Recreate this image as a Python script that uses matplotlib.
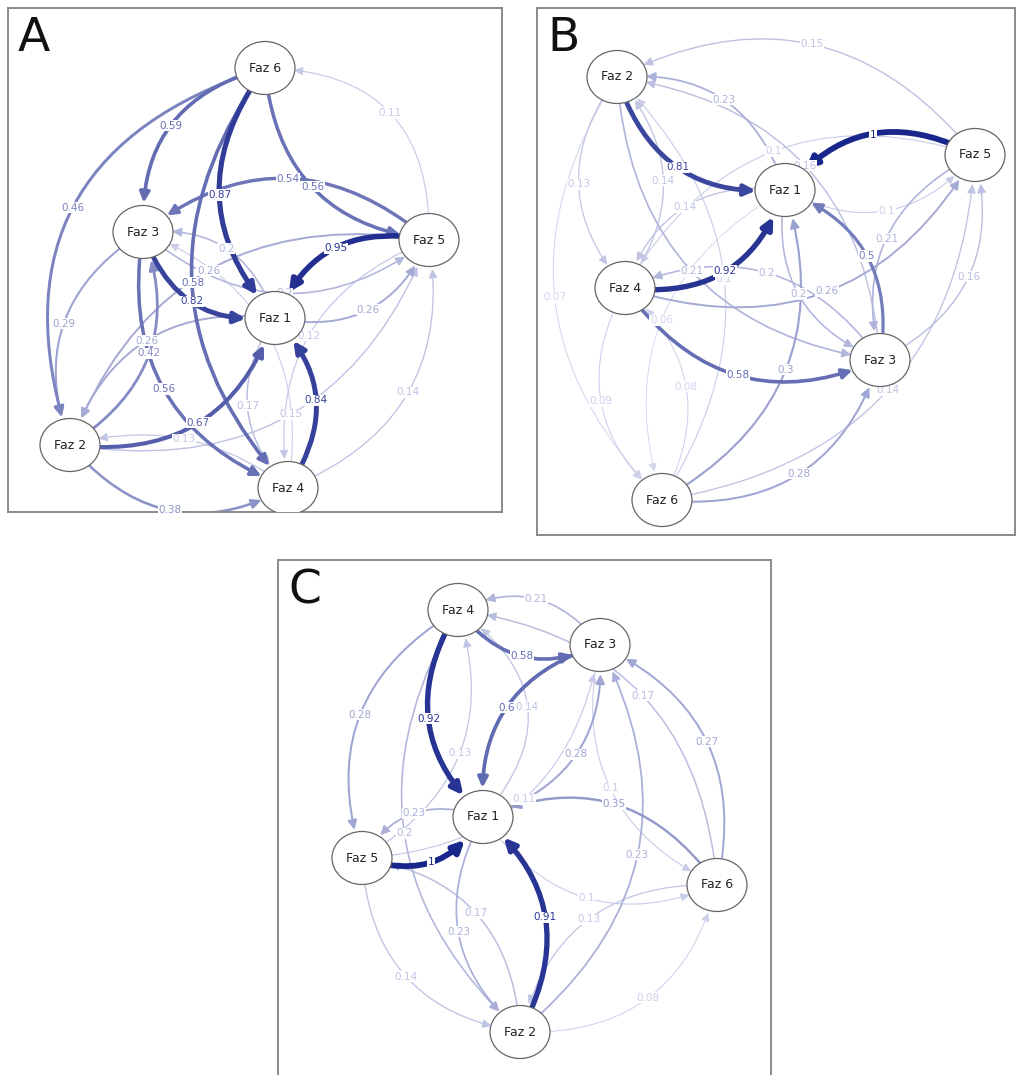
import matplotlib.pyplot as plt
from matplotlib.patches import Ellipse, FancyArrowPatch

names = ['Faz 1', 'Faz 2', 'Faz 3', 'Faz 4', 'Faz 5', 'Faz 6']

# node layouts, pixels from the top-left corner of each panel
pos_a = [(267, 310), (62, 437), (135, 224), (280, 480), (421, 232), (257, 60)]
pos_b = [(248, 182), (80, 69), (343, 352), (88, 280), (438, 147), (125, 492)]
pos_c = [(205, 257), (242, 472), (322, 85), (180, 50), (84, 298), (439, 325)]

# transitions: from phase, to phase, probability
edges_a = [(6, 3, 0.59), (6, 2, 0.46), (3, 2, 0.29), (6, 1, 0.87), (6, 4, 0.58),
           (6, 5, 0.56), (5, 3, 0.54), (5, 1, 0.95), (3, 1, 0.82), (1, 3, 0.2),
           (3, 4, 0.56), (2, 3, 0.42), (1, 2, 0.26), (5, 2, 0.26), (1, 4, 0.17),
           (4, 1, 0.84), (2, 1, 0.67), (4, 2, 0.13), (2, 4, 0.38), (1, 5, 0.26),
           (4, 5, 0.14), (5, 6, 0.11), (3, 5, 0.2), (5, 4, 0.12), (2, 5, 0.15),
           (4, 3, 0.1)]
edges_b = [(2, 1, 0.81), (5, 1, 1.0), (4, 1, 0.92), (4, 3, 0.58), (3, 1, 0.5),
           (6, 3, 0.28), (6, 1, 0.3), (5, 2, 0.15), (1, 2, 0.23), (2, 4, 0.13),
           (4, 2, 0.14), (3, 5, 0.16), (6, 5, 0.14), (1, 5, 0.1), (5, 3, 0.21),
           (1, 3, 0.2), (4, 5, 0.26), (4, 6, 0.09), (6, 4, 0.08), (6, 2, 0.1),
           (1, 4, 0.14), (2, 3, 0.21), (3, 2, 0.16), (3, 4, 0.2), (5, 4, 0.1),
           (1, 6, 0.06), (2, 6, 0.07)]
edges_c = [(4, 1, 0.92), (4, 3, 0.58), (1, 3, 0.28), (3, 1, 0.6), (3, 4, 0.21),
           (5, 1, 1.0), (2, 1, 0.91), (1, 2, 0.23), (4, 5, 0.28), (5, 4, 0.13),
           (6, 3, 0.27), (6, 1, 0.35), (2, 3, 0.23), (6, 2, 0.13), (2, 6, 0.08),
           (5, 2, 0.14), (2, 5, 0.17), (1, 5, 0.23), (5, 3, 0.11), (1, 4, 0.14),
           (6, 4, 0.17), (4, 2, 0.2), (1, 6, 0.1), (3, 6, 0.1)]

# curvature for arcs that bend more or less than the default
bend_a = {(6, 2): 0.5, (5, 6): 0.5, (4, 2): 0.25}
bend_c = {(1, 4): 0.55}

W, H = 1019, 1075
fig = plt.figure(figsize=(W / 100, H / 100), dpi=100)

light = (0.90, 0.91, 0.97)
dark = (0.10, 0.15, 0.55)


def edge_colour(w):
    t = min(w, 1.0) ** 0.85
    return tuple(l + (d - l) * t for l, d in zip(light, dark))


def panel(box, letter, pos, edges, bend=None):
    x0, y0, x1, y1 = box
    pw, ph = x1 - x0, y1 - y0
    ax = fig.add_axes([x0 / W, 1 - y1 / H, pw / W, ph / H])
    ax.set_xlim(0, pw)
    ax.set_ylim(ph, 0)
    ax.set_xticks([])
    ax.set_yticks([])
    for s in ax.spines.values():
        s.set_color('#8a8a8a')
        s.set_linewidth(1.4)
    bend = bend or {}
    for a, b, w in sorted(edges, key=lambda e: e[2]):
        p, q = pos[a - 1], pos[b - 1]
        rad = bend.get((a, b), 0.4)
        col = edge_colour(w)
        lw = (0.6 + 5.2 * w) * 0.72
        arr = FancyArrowPatch(p, q, connectionstyle=f'arc3,rad={rad}',
                              arrowstyle='-|>,head_length=0.45,head_width=0.22',
                              mutation_scale=11 + 4 * w, shrinkA=20, shrinkB=21,
                              color=col, lw=lw, zorder=2 + w)
        ax.add_patch(arr)
        # label sits at the middle of the quadratic arc
        dx, dy = q[0] - p[0], q[1] - p[1]
        lx = (p[0] + q[0]) / 2 - 0.5 * rad * dy
        ly = (p[1] + q[1]) / 2 + 0.5 * rad * dx
        ax.text(lx, ly, f'{w:g}', fontsize=7.5, color=col, ha='center', va='center',
                zorder=3.2 + w, bbox=dict(boxstyle='square,pad=0.05', fc='white', ec='none'))
    for (x, y), name in zip(pos, names):
        ax.add_patch(Ellipse((x, y), 60, 53, fc='white', ec='#666666', lw=0.9, zorder=6))
        ax.text(x, y, name, fontsize=9, ha='center', va='center', color='#222222', zorder=7)
    ax.text(10, 8, letter, fontsize=34, ha='left', va='top', color='#111111', zorder=8)


panel((8, 8, 502, 512), 'A', pos_a, edges_a, bend_a)
panel((537, 8, 1015, 535), 'B', pos_b, edges_b)
panel((278, 560, 771, 1085), 'C', pos_c, edges_c, bend_c)

fig.savefig('out.png', dpi=100)
